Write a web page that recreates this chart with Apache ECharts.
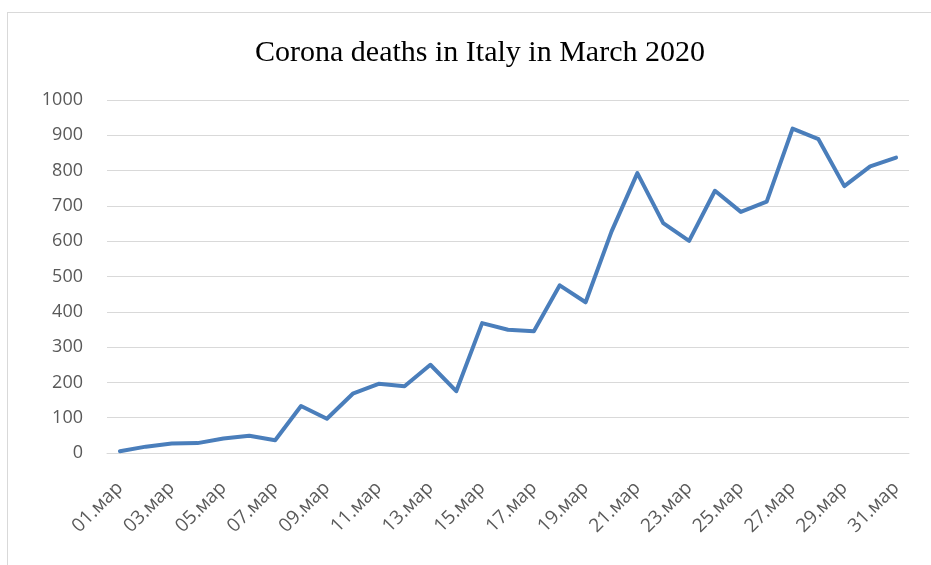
<!DOCTYPE html>
<html>
<head>
<meta charset="utf-8">
<script src="https://cdn.jsdelivr.net/npm/echarts@6/dist/echarts.min.js"></script>
<style>
  html, body { margin: 0; padding: 0; background: #fff; }
  #frame { position: absolute; left: 7px; top: 12px; width: 940px; height: 560px;
           border: 1px solid #d9d9d9; box-sizing: border-box; }
  #myChart { position: absolute; left: 0; top: 0; width: 931px; height: 565px; }
</style>
</head>
<body>
<div id="frame"></div>
<div id="myChart"></div>
<script>
// x轴 日期
var days = ['01.мар', '02.мар', '03.мар', '04.мар', '05.мар', '06.мар', '07.мар', '08.мар',
  '09.мар', '10.мар', '11.мар', '12.мар', '13.мар', '14.мар', '15.мар', '16.мар',
  '17.мар', '18.мар', '19.мар', '20.мар', '21.мар', '22.мар', '23.мар', '24.мар',
  '25.мар', '26.мар', '27.мар', '28.мар', '29.мар', '30.мар', '31.мар']
// y轴 数据
var deaths = [5, 18, 27, 28, 41, 49, 36, 133, 97, 168, 196, 189, 250, 175, 368, 349,
  345, 475, 427, 627, 793, 651, 601, 743, 683, 712, 919, 889, 756, 812, 837]

var myChart = echarts.init(document.getElementById('myChart'))
var option = {
  animation: false,
  title: {
    text: 'Corona deaths in Italy in March 2020',
    left: 475,
    top: 33,
    textAlign: 'center',
    textStyle: {
      fontFamily: 'Liberation Serif',
      fontWeight: 'normal',
      fontSize: 30,
      color: '#000'
    }
  },
  grid: { left: 107, right: 22, top: 100, bottom: 112 },
  xAxis: {
    type: 'category',
    data: days,
    boundaryGap: true,
    axisLine: { lineStyle: { color: '#d9d9d9', width: 1 } },
    axisTick: { interval: 1, length: 7, lineStyle: { color: '#d9d9d9' } },
    axisLabel: {
      interval: 1,
      rotate: 45,
      margin: 32,
      fontFamily: 'Open Sans',
      fontSize: 19,
      color: '#595959'
    }
  },
  yAxis: {
    type: 'value',
    min: 0,
    max: 1000,
    interval: 100,
    axisLine: { show: false },
    axisTick: { show: false },
    splitLine: { lineStyle: { color: '#d9d9d9' } },
    axisLabel: {
      margin: 24,
      formatter: function (v) { return String(v) },
      fontFamily: 'Open Sans',
      fontSize: 18,
      color: '#595959'
    }
  },
  series: [{
    type: 'line',
    data: deaths,
    symbol: 'none',
    lineStyle: { color: '#4a7ebb', width: 4, join: 'round', cap: 'round' }
  }]
}
myChart.setOption(option)
</script>
</body>
</html>
